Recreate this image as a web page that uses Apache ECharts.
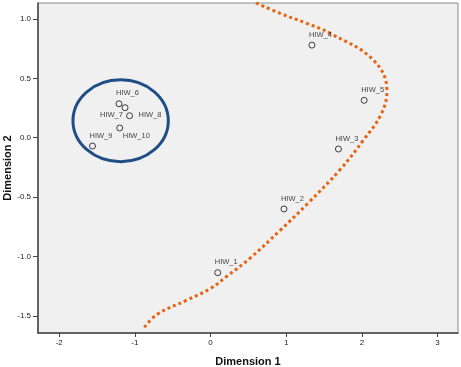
<!DOCTYPE html>
<html>
<head>
<meta charset="utf-8">
<script src="https://cdn.jsdelivr.net/npm/echarts@6/dist/echarts.min.js"></script>
<style>
  html, body { margin: 0; padding: 0; background: #fff; }
  #chart { width: 461px; height: 367px; }
</style>
</head>
<body>
<div id="chart"></div>
<script>
(function() {

const pointNames = ["HIW_1", "HIW_2", "HIW_3", "HIW_4", "HIW_5", "HIW_6", "HIW_7", "HIW_8", "HIW_9", "HIW_10"];
const pointX = [0.095, 0.97, 1.69, 1.34, 2.03, -1.21, -1.13, -1.07, -1.56, -1.20];
const pointY = [-1.137, -0.60, -0.095, 0.78, 0.315, 0.286, 0.253, 0.185, -0.07, 0.082];

// dotted fit curve top to bottom
const curveX = [0.60, 0.92, 1.27, 1.58, 2.15, 2.33, 2.26, 2.02, 1.71, 1.29, 0.92, 0.52, 0.21, 0.0, -0.31, -0.71, -0.89];
const curveY = [1.135, 1.048, 0.964, 0.88, 0.655, 0.40, 0.205, -0.02, -0.27, -0.55, -0.78, -1.016, -1.17, -1.27, -1.367, -1.49, -1.61];

// cluster ellipse: centre and radii in data units
const ellipseCenter = [-1.188, 0.143];
const ellipseRadius = [0.63, 0.345];

const xTicks = [-2, -1, 0, 1, 2, 3];
const yTicks = [-1.5, -1.0, -0.5, 0.0, 0.5, 1.0];

// label nudges for the crowded cluster
const labelOffsets = {
  "HIW_7": [-25, 18],
  "HIW_8": [9, 10],
  "HIW_10": [3, 18]
};

const pointData = pointNames.map((n, i) => ({
  value: [pointX[i], pointY[i]],
  name: n,
  label: { offset: labelOffsets[n] || [-3, 0] }
}));

const curveData = curveX.map((x, i) => [x, curveY[i]]);

const tickFont = { fontSize: 8, color: "#222", fontFamily: "Liberation Sans" };

const option = {
  animation: false,
  grid: {
    left: 38, right: 3, top: 3, bottom: 34,
    outerBoundsMode: "none",
    containLabel: false,
    show: true,
    backgroundColor: "#f0f0f0",
    borderColor: "#8a8a8a",
    borderWidth: 1
  },
  xAxis: {
    type: "value",
    min: -2.28,
    max: 3.27,
    name: "Dimension 1",
    nameLocation: "middle",
    nameGap: 23,
    nameMoveOverlap: false,
    nameTextStyle: { fontFamily: "Liberation Sans", fontWeight: "bold", fontSize: 11, color: "#111" },
    axisLine: { show: true, onZero: false, lineStyle: { color: "#444", width: 1.5 } },
    axisTick: { show: true, length: 4, customValues: xTicks, lineStyle: { color: "#444" } },
    axisLabel: Object.assign({ customValues: xTicks, margin: 6 }, tickFont),
    splitLine: { show: false }
  },
  yAxis: {
    type: "value",
    min: -1.645,
    max: 1.135,
    name: "Dimension 2",
    nameLocation: "middle",
    nameRotate: 90,
    nameGap: 25,
    nameMoveOverlap: false,
    nameTextStyle: { fontFamily: "Liberation Sans", fontWeight: "bold", fontSize: 11, color: "#111" },
    axisLine: { show: true, onZero: false, lineStyle: { color: "#444", width: 1.5 } },
    axisTick: { show: true, length: 5, customValues: yTicks, lineStyle: { color: "#444" } },
    axisLabel: Object.assign({ customValues: yTicks, margin: 7, formatter: (v) => v.toFixed(1) }, tickFont),
    splitLine: { show: false }
  },
  series: [
    {
      type: "line",
      data: curveData,
      smooth: 0.4,
      symbol: "none",
      clip: true,
      silent: true,
      lineStyle: { color: "#e8620f", width: 3, type: [3, 3] },
      z: 2
    },
    {
      type: "scatter",
      data: pointData,
      symbol: "circle",
      symbolSize: 6,
      itemStyle: { color: "#f0f0f0", borderColor: "#111", borderWidth: 1 },
      label: {
        show: true,
        position: "top",
        align: "left",
        distance: 3,
        formatter: (p) => p.name,
        fontFamily: "Liberation Sans",
        fontSize: 7.5,
        color: "#111"
      },
      z: 3
    }
  ]
};

const chart = echarts.init(document.getElementById("chart"));
chart.setOption(option);

const c = chart.convertToPixel({ gridIndex: 0 }, ellipseCenter);
const edge = chart.convertToPixel({ gridIndex: 0 }, [ellipseCenter[0] + ellipseRadius[0], ellipseCenter[1] + ellipseRadius[1]]);
chart.setOption({
  graphic: [{
    type: "ellipse",
    shape: { cx: c[0], cy: c[1], rx: Math.abs(edge[0] - c[0]), ry: Math.abs(c[1] - edge[1]) },
    style: { fill: null, stroke: "#1f4e87", lineWidth: 3 },
    z: 10
  }]
});

window.addEventListener("resize", () => chart.resize());
})();
</script>
</body>
</html>
